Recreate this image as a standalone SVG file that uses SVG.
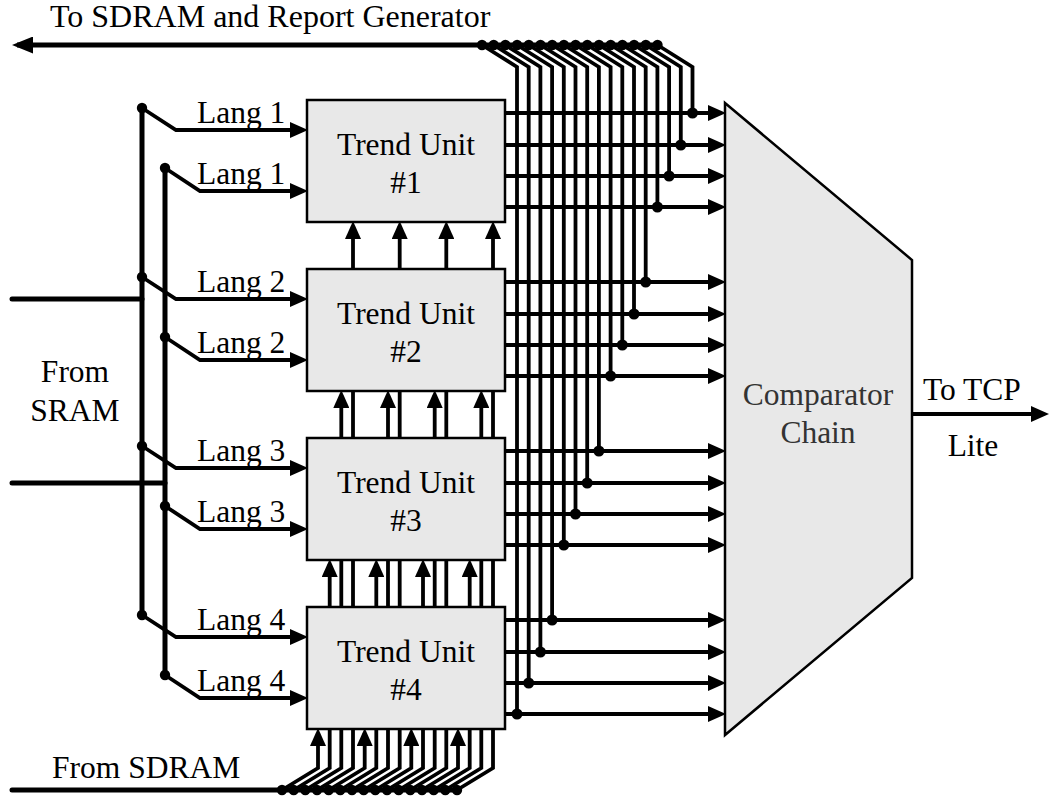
<svg xmlns="http://www.w3.org/2000/svg" width="1050" height="798" viewBox="0 0 1050 798">
<style>
  text { font-family: "Liberation Serif", "Times New Roman", serif; font-size: 31.5px; fill: #000; }
  .mid { text-anchor: middle; }
  .box { fill: #e8e8e8; stroke: #000; stroke-width: 2.5; }
  .w { fill: none; stroke: #000; stroke-width: 3.8; stroke-linejoin: miter; }
  .bus { fill: none; stroke: #000; stroke-width: 5; stroke-linecap: round; }
  .a { marker-end: url(#ah); }
  .dot { fill: #000; }
</style>
<defs>
  <marker id="ah" markerUnits="userSpaceOnUse" markerWidth="18" markerHeight="16" viewBox="0 0 18 16" refX="13" refY="8" orient="auto">
    <path d="M0,0 L18,8 L0,16 z" fill="#000"/>
  </marker>
  <marker id="big" markerUnits="userSpaceOnUse" markerWidth="21" markerHeight="17" viewBox="0 0 21 17" refX="16" refY="8.5" orient="auto">
    <path d="M0,0 L21,8.5 L0,17 z" fill="#000"/>
  </marker>
</defs>

<rect width="1050" height="798" fill="#fff"/>

<g id="connectors">
  <!-- Top bus to SDRAM and Report Generator -->
  <path d="M657.5,45 H17" fill="none" stroke="#000" stroke-width="5" marker-end="url(#big)"/>
  <!-- vertical taps from top bus to outputs -->
  <path class="w" d="M482,45 L517,67 V714"/>
  <path class="w" d="M493.7,45 L528.7,67 V683"/>
  <path class="w" d="M505.4,45 L540.4,67 V652"/>
  <path class="w" d="M517.1,45 L552.1,67 V620"/>
  <path class="w" d="M528.8,45 L563.8,67 V545"/>
  <path class="w" d="M540.5,45 L575.5,67 V514"/>
  <path class="w" d="M552.2,45 L587.2,67 V483"/>
  <path class="w" d="M563.9,45 L598.9,67 V451"/>
  <path class="w" d="M575.6,45 L610.6,67 V376"/>
  <path class="w" d="M587.3,45 L622.3,67 V345"/>
  <path class="w" d="M599,45 L634,67 V314"/>
  <path class="w" d="M610.7,45 L645.7,67 V282"/>
  <path class="w" d="M622.4,45 L657.4,67 V207"/>
  <path class="w" d="M634.1,45 L669.1,67 V176"/>
  <path class="w" d="M645.8,45 L680.8,67 V145"/>
  <path class="w" d="M657.5,45 L692.5,67 V113"/>
  <g class="dot">
    <circle cx="482" cy="45" r="5.2"/><circle cx="493.7" cy="45" r="5.2"/><circle cx="505.4" cy="45" r="5.2"/><circle cx="517.1" cy="45" r="5.2"/>
    <circle cx="528.8" cy="45" r="5.2"/><circle cx="540.5" cy="45" r="5.2"/><circle cx="552.2" cy="45" r="5.2"/><circle cx="563.9" cy="45" r="5.2"/>
    <circle cx="575.6" cy="45" r="5.2"/><circle cx="587.3" cy="45" r="5.2"/><circle cx="599" cy="45" r="5.2"/><circle cx="610.7" cy="45" r="5.2"/>
    <circle cx="622.4" cy="45" r="5.2"/><circle cx="634.1" cy="45" r="5.2"/><circle cx="645.8" cy="45" r="5.2"/><circle cx="657.5" cy="45" r="5.2"/>
  </g>

  <!-- outputs to comparator -->
  <path class="w a" d="M505,113 H721"/>
  <path class="w a" d="M505,145 H721"/>
  <path class="w a" d="M505,176 H721"/>
  <path class="w a" d="M505,207 H721"/>
  <path class="w a" d="M505,282 H721"/>
  <path class="w a" d="M505,314 H721"/>
  <path class="w a" d="M505,345 H721"/>
  <path class="w a" d="M505,376 H721"/>
  <path class="w a" d="M505,451 H721"/>
  <path class="w a" d="M505,483 H721"/>
  <path class="w a" d="M505,514 H721"/>
  <path class="w a" d="M505,545 H721"/>
  <path class="w a" d="M505,620 H721"/>
  <path class="w a" d="M505,652 H721"/>
  <path class="w a" d="M505,683 H721"/>
  <path class="w a" d="M505,714 H721"/>
  <g class="dot">
    <circle cx="692.5" cy="113" r="5.5"/><circle cx="680.8" cy="145" r="5.5"/><circle cx="669.1" cy="176" r="5.5"/><circle cx="657.4" cy="207" r="5.5"/>
    <circle cx="645.7" cy="282" r="5.5"/><circle cx="634" cy="314" r="5.5"/><circle cx="622.3" cy="345" r="5.5"/><circle cx="610.6" cy="376" r="5.5"/>
    <circle cx="598.9" cy="451" r="5.5"/><circle cx="587.2" cy="483" r="5.5"/><circle cx="575.5" cy="514" r="5.5"/><circle cx="563.8" cy="545" r="5.5"/>
    <circle cx="552.1" cy="620" r="5.5"/><circle cx="540.4" cy="652" r="5.5"/><circle cx="528.7" cy="683" r="5.5"/><circle cx="517" cy="714" r="5.5"/>
  </g>

  <!-- From SDRAM bus -->
  <path class="bus" d="M12,790 H457"/>
  <path class="w a" d="M282,790 L318,768 V733"/>
  <path class="w a" d="M293.7,790 L329.7,768 V564"/>
  <path class="w a" d="M305.3,790 L341.3,768 V395"/>
  <path class="w a" d="M317,790 L353,768 V226"/>
  <path class="w a" d="M328.7,790 L364.7,768 V733"/>
  <path class="w a" d="M340.3,790 L376.3,768 V564"/>
  <path class="w a" d="M352,790 L388,768 V395"/>
  <path class="w a" d="M363.7,790 L399.7,768 V226"/>
  <path class="w a" d="M375.3,790 L411.3,768 V733"/>
  <path class="w a" d="M387,790 L423,768 V564"/>
  <path class="w a" d="M398.7,790 L434.7,768 V395"/>
  <path class="w a" d="M410.3,790 L446.3,768 V226"/>
  <path class="w a" d="M422,790 L458,768 V733"/>
  <path class="w a" d="M433.7,790 L469.7,768 V564"/>
  <path class="w a" d="M445.3,790 L481.3,768 V395"/>
  <path class="w a" d="M457,790 L493,768 V226"/>
  <g class="dot">
    <circle cx="282" cy="790" r="5.2"/><circle cx="293.7" cy="790" r="5.2"/><circle cx="305.3" cy="790" r="5.2"/><circle cx="317" cy="790" r="5.2"/>
    <circle cx="328.7" cy="790" r="5.2"/><circle cx="340.3" cy="790" r="5.2"/><circle cx="352" cy="790" r="5.2"/><circle cx="363.7" cy="790" r="5.2"/>
    <circle cx="375.3" cy="790" r="5.2"/><circle cx="387" cy="790" r="5.2"/><circle cx="398.7" cy="790" r="5.2"/><circle cx="410.3" cy="790" r="5.2"/>
    <circle cx="422" cy="790" r="5.2"/><circle cx="433.7" cy="790" r="5.2"/><circle cx="445.3" cy="790" r="5.2"/><circle cx="457" cy="790" r="5.2"/>
  </g>

  <!-- From SRAM -->
  <path class="bus" d="M12,299 H142"/>
  <path class="bus" d="M12,483 H165"/>
  <path class="bus" d="M142,108 V615" stroke-linecap="butt"/>
  <path class="bus" d="M165,168 V675" stroke-linecap="butt"/>
  <path class="w a" d="M142,108 L176,130 H303"/>
  <path class="w a" d="M165,168 L200,191 H303"/>
  <path class="w a" d="M142,277 L176,299 H303"/>
  <path class="w a" d="M165,337 L200,360 H303"/>
  <path class="w a" d="M142,446 L176,468 H303"/>
  <path class="w a" d="M165,506 L200,529 H303"/>
  <path class="w a" d="M142,615 L176,637 H303"/>
  <path class="w a" d="M165,675 L200,698 H303"/>
  <g class="dot">
    <circle cx="142" cy="108" r="5.2"/><circle cx="165" cy="168" r="5.2"/>
    <circle cx="142" cy="277" r="5.2"/><circle cx="165" cy="337" r="5.2"/>
    <circle cx="142" cy="446" r="5.2"/><circle cx="165" cy="506" r="5.2"/>
    <circle cx="142" cy="615" r="5.2"/><circle cx="165" cy="675" r="5.2"/>
  </g>

  <!-- Comparator output -->
  <path class="w a" d="M912,414 H1044"/>
</g>

<g id="labels">
  <text x="50" y="27" style="font-size:32px">To SDRAM and Report Generator</text>
  <text x="75" y="382" class="mid">From</text>
  <text x="75" y="421" class="mid">SRAM</text>
  <text x="52" y="778">From SDRAM</text>
  <text x="197" y="123">Lang 1</text>
  <text x="197" y="184">Lang 1</text>
  <text x="197" y="292">Lang 2</text>
  <text x="197" y="353">Lang 2</text>
  <text x="197" y="461">Lang 3</text>
  <text x="197" y="522">Lang 3</text>
  <text x="197" y="630">Lang 4</text>
  <text x="197" y="691">Lang 4</text>
  <text x="923" y="400">To TCP</text>
  <text x="973" y="456" class="mid">Lite</text>
</g>

<g id="tu1">
  <rect class="box" x="307" y="100" width="198" height="122"/>
  <text x="406" y="155" class="mid">Trend Unit</text>
  <text x="406" y="193" class="mid">#1</text>
</g>
<g id="tu2">
  <rect class="box" x="307" y="269" width="198" height="122"/>
  <text x="406" y="324" class="mid">Trend Unit</text>
  <text x="406" y="362" class="mid">#2</text>
</g>
<g id="tu3">
  <rect class="box" x="307" y="438" width="198" height="122"/>
  <text x="406" y="493" class="mid">Trend Unit</text>
  <text x="406" y="531" class="mid">#3</text>
</g>
<g id="tu4">
  <rect class="box" x="307" y="607" width="198" height="122"/>
  <text x="406" y="662" class="mid">Trend Unit</text>
  <text x="406" y="700" class="mid">#4</text>
</g>
<g id="comparator">
  <polygon class="box" points="725,103 912,260 912,578 725,735"/>
  <text x="818" y="405" class="mid" style="fill:#333">Comparator</text>
  <text x="818" y="443" class="mid" style="fill:#333">Chain</text>
</g>
</svg>
